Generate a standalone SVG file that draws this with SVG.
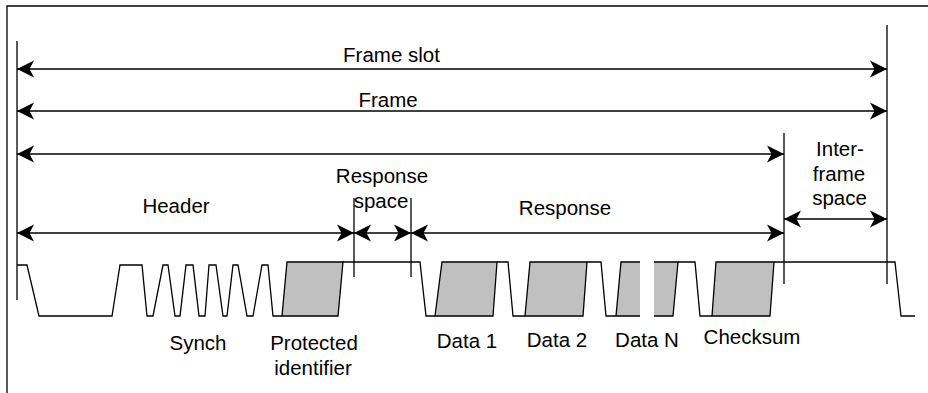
<svg xmlns="http://www.w3.org/2000/svg" width="928" height="393" viewBox="0 0 928 393">
<defs>
<style>
.ln{stroke:#000;stroke-width:1.3;fill:none}
.dim{stroke:#000;stroke-width:1.3;fill:none;marker-start:url(#ah);marker-end:url(#ah)}
.box{fill:#c0c0c0;stroke:#000;stroke-width:1.3;stroke-linejoin:miter}
.fill{fill:#c0c0c0;stroke:none}
text{font-family:"Liberation Sans",Arial,sans-serif;font-size:20.5px;fill:#000;text-anchor:middle}
</style>
<marker id="ah" markerUnits="userSpaceOnUse" markerWidth="20" markerHeight="20" viewBox="-18 -10 20 20" refX="0" refY="0" orient="auto-start-reverse">
<path d="M0,0 L-17,-8.5 L-12.5,0 L-17,8.5 Z" fill="#000"/>
</marker>
</defs>
<rect width="928" height="393" fill="#fff"/>
<g id="border">
<path class="ln" d="M7,393 V6 H928"/>
</g>
<g id="boundaries">
<line class="ln" x1="17" y1="41" x2="17" y2="300"/>
<line class="ln" x1="887" y1="25" x2="887" y2="284"/>
<line class="ln" x1="784" y1="133" x2="784" y2="284"/>
<line class="ln" x1="354" y1="198" x2="354" y2="277"/>
<line class="ln" x1="411" y1="198" x2="411" y2="277"/>
</g>
<g id="connectors">
<line class="dim" x1="17" y1="69" x2="887" y2="69"/>
<line class="dim" x1="17" y1="111" x2="887" y2="111"/>
<line class="dim" x1="17" y1="154" x2="784" y2="154"/>
<line class="dim" x1="17" y1="233" x2="354" y2="233"/>
<line class="dim" x1="354" y1="233" x2="411" y2="233"/>
<line class="dim" x1="411" y1="233" x2="784" y2="233"/>
<line class="dim" x1="784" y1="219" x2="887" y2="219"/>
</g>
<g id="waveform">
<polygon id="pid-box" class="box" points="282,316 287,262 343,262 338,316"/>
<polygon id="data1-box" class="box" points="435,316 442,262 497,262 493,316"/>
<polygon id="data2-box" class="box" points="525,316 530,262 587,262 583,316"/>
<polygon class="fill" points="616,316 621,262 640,262 640,316"/>
<polygon class="fill" points="654,262 678,262 673,316 654,316"/>
<polygon id="checksum-box" class="box" points="712,316 716,262 774,262 770,316"/>
<polyline class="ln" points="17,265 27,265 39,316 112,316 120,265 142,265 147,316 153,316 163,265 168,265 175,316 180,316 186,265 193,265 199,316 205,316 209,265 216,265 223,316 227,316 233,265 238,265 247,316 253,316 262,265 268,265 273,316 282,316"/>
<polyline class="ln" points="343,262 420,262 426,316 435,316"/>
<polyline class="ln" points="497,262 508,262 513,316 525,316"/>
<polyline class="ln" points="587,262 601,262 606,316 640,316"/>
<polyline class="ln" points="616,316 621,262 640,262"/>
<polyline class="ln" points="654,262 678,262 673,316 654,316"/>
<polyline class="ln" points="678,262 695,262 700,316 712,316"/>
<polyline class="ln" points="774,262 895,262 901,316 915,316"/>
</g>
<g id="label-frame-slot"><text x="391.5" y="62">Frame slot</text></g>
<g id="label-frame"><text x="388" y="107">Frame</text></g>
<g id="label-header"><text x="176" y="213">Header</text></g>
<g id="label-response-space"><text x="382" y="183">Response</text><text x="381" y="208">space</text></g>
<g id="label-response"><text x="565" y="215">Response</text></g>
<g id="label-interframe"><text x="840" y="156">Inter-</text><text x="839" y="181">frame</text><text x="839.5" y="205">space</text></g>
<g id="label-synch"><text x="198" y="350">Synch</text></g>
<g id="label-pid"><text x="314" y="350">Protected</text><text x="313" y="375">identifier</text></g>
<g id="label-data1"><text x="467" y="348">Data 1</text></g>
<g id="label-data2"><text x="557" y="347">Data 2</text></g>
<g id="label-datan"><text x="647" y="347">Data N</text></g>
<g id="label-checksum"><text x="752" y="344">Checksum</text></g>
</svg>
